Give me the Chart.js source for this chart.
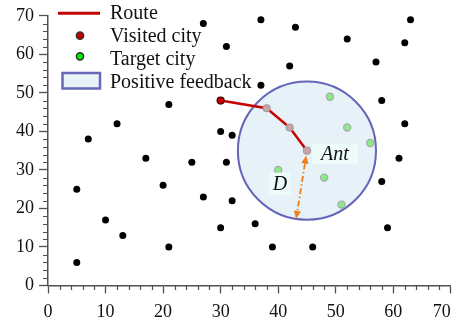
<!DOCTYPE html>
<html>
<head>
<meta charset="utf-8">
<script src="https://cdn.jsdelivr.net/npm/chart.js@4/dist/chart.umd.min.js"></script>
<style>
  html, body { margin: 0; padding: 0; background: #fff; }
  #c { display: block; }
</style>
</head>
<body>
<canvas id="c" width="456" height="325"></canvas>
<script>
// Cities not yet reached by the ant
const cityX = [21, 12, 7, 27, 37, 43, 31, 42, 37, 30, 32, 63, 52, 62, 57, 58, 62, 17, 20, 5, 10, 13, 21, 5, 25, 31, 27, 32, 30, 36, 39, 61, 58, 59, 46];
const cityY = [47, 42, 38, 68, 69, 67, 62, 57, 52, 40, 39, 69, 64, 63, 58, 48, 42, 33, 26, 25, 17, 13, 10, 6, 32, 32, 23, 22, 15, 16, 10, 33, 27, 15, 10];

// Route travelled so far (first entry is the start city, last entry is the ant)
const routeX = [30, 38, 42, 45];
const routeY = [48, 46, 41, 35];

// Candidate cities inside the positive-feedback zone
const targetX = [49, 52, 56, 40, 48, 51];
const targetY = [49, 41, 37, 30, 28, 21];

// Radius D of the positive-feedback zone, in x-axis units
const feedbackRadius = 12;

// Axis range and tick labels
const axisMin = 0, axisMax = 70, majorStep = 10, minorStep = 2;
const legendLabels = ['Route', 'Visited city', 'Target city', 'Positive feedback'];

const SERIF = '"Liberation Serif", "Times New Roman", serif';
const RED = '#c00000';
const AXIS = '#505050';

const toPoints = (xs, ys) => xs.map((x, i) => ({ x, y: ys[i] }));
const antIndex = routeX.length - 1;

// Feedback circle drawn beneath the points, centred on the ant
const feedbackZone = {
  id: 'feedbackZone',
  beforeDatasetsDraw(chart) {
    const { ctx, scales: { x, y } } = chart;
    const cx = x.getPixelForValue(routeX[antIndex]);
    const cy = y.getPixelForValue(routeY[antIndex]);
    const r = x.getPixelForValue(routeX[antIndex] + feedbackRadius) - cx;
    ctx.save();
    ctx.beginPath();
    ctx.arc(cx, cy, r, 0, Math.PI * 2);
    ctx.fillStyle = '#e6f2f8';
    ctx.fill();
    ctx.lineWidth = 2;
    ctx.strokeStyle = '#6464b8';
    ctx.stroke();
    ctx.restore();
  }
};

// Minor ticks every two units on both axes
const minorTicks = {
  id: 'minorTicks',
  afterDraw(chart) {
    const { ctx, scales: { x, y }, chartArea } = chart;
    ctx.save();
    ctx.strokeStyle = AXIS;
    ctx.lineWidth = 1.2;
    ctx.beginPath();
    for (let v = axisMin; v <= axisMax; v += minorStep) {
      if (v % majorStep === 0) continue;
      const px = Math.round(x.getPixelForValue(v)) + 0.5;
      ctx.moveTo(px, chartArea.bottom);
      ctx.lineTo(px, chartArea.bottom + 4.5);
      const py = Math.round(y.getPixelForValue(v)) + 0.5;
      ctx.moveTo(chartArea.left, py);
      ctx.lineTo(chartArea.left - 5, py);
    }
    ctx.stroke();
    ctx.restore();
  }
};

// Distance arrow D, and the "Ant" / "D" tags
const annotations = {
  id: 'annotations',
  afterDatasetsDraw(chart) {
    const { ctx, scales: { x, y } } = chart;
    const cx = x.getPixelForValue(routeX[antIndex]);
    const cy = y.getPixelForValue(routeY[antIndex]);
    const r = x.getPixelForValue(routeX[antIndex] + feedbackRadius) - cx;
    const ang = 9 * Math.PI / 180;
    const dx = -Math.sin(ang), dy = Math.cos(ang);
    const sx = cx + dx * 5, sy = cy + dy * 5;
    const ex = cx + dx * r, ey = cy + dy * r;
    const head = 8, half = 3.6;

    ctx.save();
    ctx.strokeStyle = '#ef7d1a';
    ctx.fillStyle = '#ef7d1a';
    ctx.lineWidth = 1.8;
    ctx.setLineDash([6, 2.5, 1.5, 2.5]);
    ctx.beginPath();
    ctx.moveTo(sx + dx * head, sy + dy * head);
    ctx.lineTo(ex - dx * head, ey - dy * head);
    ctx.stroke();
    ctx.setLineDash([]);
    const arrowHead = (tx, ty, ux, uy) => {
      const bx = tx - ux * head, by = ty - uy * head;
      ctx.beginPath();
      ctx.moveTo(tx, ty);
      ctx.lineTo(bx - uy * half, by + ux * half);
      ctx.lineTo(bx + uy * half, by - ux * half);
      ctx.closePath();
      ctx.fill();
    };
    arrowHead(sx, sy, -dx, -dy);
    arrowHead(ex, ey, dx, dy);

    const tag = (text, tx, ty, w, h) => {
      ctx.fillStyle = '#eefbfb';
      ctx.fillRect(tx - w / 2, ty - h / 2, w, h);
      ctx.fillStyle = '#111';
      ctx.font = 'italic 20px ' + SERIF;
      ctx.textAlign = 'center';
      ctx.textBaseline = 'middle';
      ctx.fillText(text, tx, ty + 1);
    };
    tag('D', cx - 27, cy + 33, 21, 22);
    tag('Ant', cx + 28, cy + 3, 46, 20);
    ctx.restore();
  }
};

// Legend in the upper-left corner of the plot
const cornerLegend = {
  id: 'cornerLegend',
  afterDraw(chart) {
    const { ctx, chartArea } = chart;
    const x0 = chartArea.left;
    const rowBase = [19.3, 42.3, 65, 87.7];
    ctx.save();
    // Route
    ctx.strokeStyle = RED;
    ctx.lineWidth = 3;
    ctx.beginPath();
    ctx.moveTo(x0 + 10, 13.3);
    ctx.lineTo(x0 + 52, 13.3);
    ctx.stroke();
    // Visited city
    ctx.lineWidth = 1.5;
    ctx.strokeStyle = '#333';
    ctx.fillStyle = '#c80000';
    ctx.beginPath();
    ctx.arc(x0 + 32, 35.7, 3.6, 0, Math.PI * 2);
    ctx.fill(); ctx.stroke();
    // Target city
    ctx.fillStyle = '#00ee00';
    ctx.beginPath();
    ctx.arc(x0 + 32, 56.3, 3.6, 0, Math.PI * 2);
    ctx.fill(); ctx.stroke();
    // Positive feedback
    ctx.fillStyle = '#e8f3f8';
    ctx.fillRect(x0 + 14.5, 73, 37.5, 15.5);
    ctx.strokeStyle = '#6868b8';
    ctx.lineWidth = 2.5;
    ctx.strokeRect(x0 + 14.5, 73, 37.5, 15.5);
    // Labels
    ctx.fillStyle = '#111';
    ctx.font = '20px ' + SERIF;
    ctx.textAlign = 'left';
    ctx.textBaseline = 'alphabetic';
    legendLabels.forEach((t, i) => ctx.fillText(t, x0 + 62, rowBase[i]));
    ctx.restore();
  }
};

const tickFont = { family: SERIF, size: 18 };

new Chart(document.getElementById('c'), {
  type: 'scatter',
  data: {
    datasets: [
      {
        label: 'City',
        data: toPoints(cityX, cityY),
        pointRadius: 3.5,
        pointBackgroundColor: '#000',
        pointBorderColor: '#000',
        pointBorderWidth: 0,
        showLine: false
      },
      {
        label: legendLabels[0],
        data: toPoints(routeX, routeY),
        showLine: true,
        borderColor: '#c80000',
        borderWidth: 2.5,
        tension: 0,
        pointRadius: 3.5,
        pointBorderWidth: 1.2,
        pointBackgroundColor: ctx => ctx.dataIndex === 0 ? '#c80000' : '#c9a4a9',
        pointBorderColor: ctx => ctx.dataIndex === 0 ? '#3a0000' : '#a49c9c'
      },
      {
        label: legendLabels[2],
        data: toPoints(targetX, targetY),
        showLine: false,
        pointRadius: 3.6,
        pointBorderWidth: 1.2,
        pointBackgroundColor: '#8ee88e',
        pointBorderColor: '#a2aca2'
      }
    ]
  },
  options: {
    responsive: false,
    devicePixelRatio: 1,
    animation: false,
    layout: { padding: { top: 15, right: 3, left: 0, bottom: 0 } },
    plugins: { legend: { display: false }, tooltip: { enabled: false } },
    scales: {
      x: {
        type: 'linear',
        min: axisMin,
        max: axisMax,
        ticks: {
          stepSize: majorStep,
          font: tickFont,
          color: '#111',
          padding: 8,
          maxRotation: 0,
          // the last label sits flush with the end of the axis
          callback: v => v === axisMax ? v + '    ' : String(v)
        },
        grid: { drawOnChartArea: false, tickLength: 8, tickColor: AXIS, tickWidth: 1.3 },
        border: { color: AXIS, width: 1.5 },
        afterFit(s) { s.height = 39.5; s.paddingRight = 0; }
      },
      y: {
        type: 'linear',
        min: axisMin,
        max: axisMax,
        ticks: { stepSize: majorStep, font: tickFont, color: '#111', padding: 5 },
        grid: { drawOnChartArea: false, tickLength: 9, tickColor: AXIS, tickWidth: 1.3 },
        border: { color: AXIS, width: 1.5 },
        afterFit(s) { s.width = 48; }
      }
    }
  },
  plugins: [feedbackZone, annotations, minorTicks, cornerLegend]
});
</script>
</body>
</html>
